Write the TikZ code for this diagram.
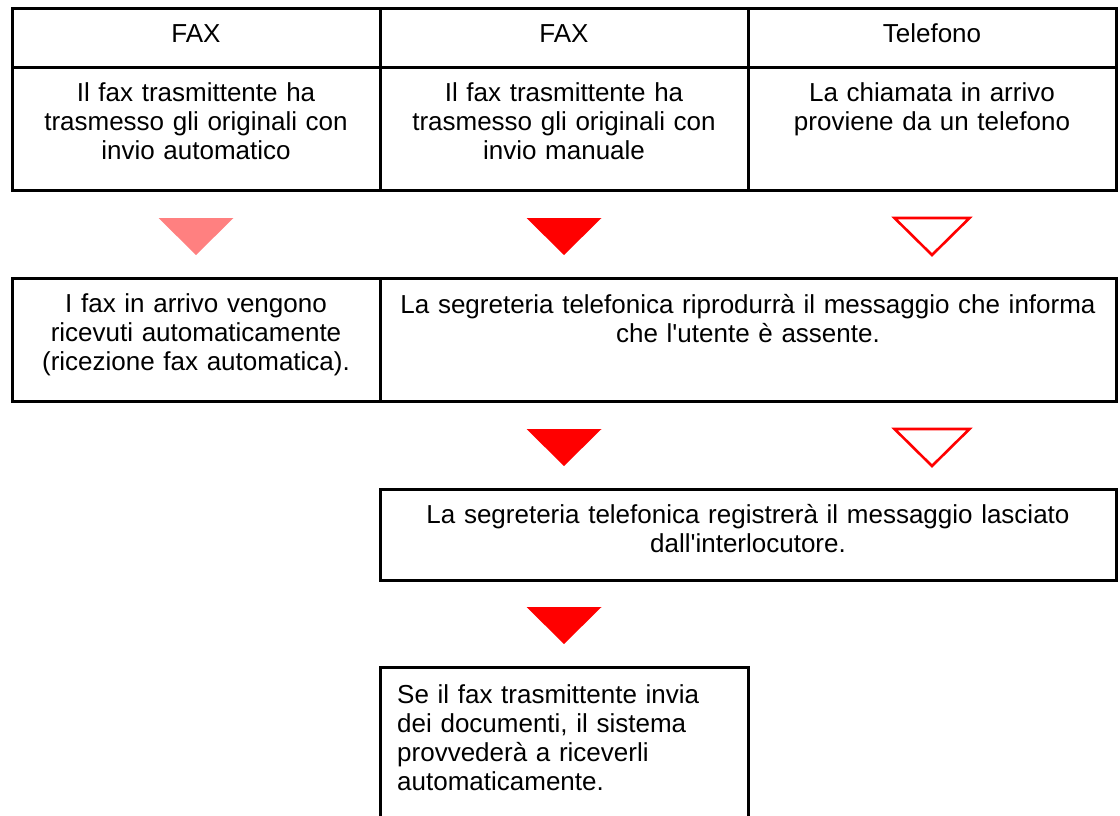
\documentclass[tikz,border=0pt]{standalone}
\usepackage{fontspec}
\newfontfamily\cellfont{Liberation Sans}
\usetikzlibrary{positioning, calc}
\definecolor{cRed}{RGB}{255,0,0}
\definecolor{cPink}{RGB}{255,128,128}
\tikzset{
  cellbox/.style={rectangle, draw=black, line width=3pt, inner sep=0pt,
                  outer sep=0pt, minimum width=368pt},
  celltext/.style={inner sep=0pt, align=center, text width=360pt,
                   font=\cellfont\fontsize{26}{29}\selectfont, anchor=base},
  trifull/.style={fill=cRed},
  trifade/.style={fill=cPink},
  triopen/.style={draw=cRed, fill=white, line width=2.6pt}
}
\begin{document}
\begin{tikzpicture}[x=1pt, y=-1pt]

  \useasboundingbox (0,0) rectangle (1120,816);
  \clip (0,0) rectangle (1120,816);

  % Header row
  \node[cellbox, minimum height=59pt, anchor=north west] (h1) at (12,9) {};
  \node[cellbox, minimum height=59pt, right=0pt of h1] (h2) {};
  \node[cellbox, minimum height=59pt, right=0pt of h2] (h3) {};

  % Condition row
  \node[cellbox, minimum height=122pt, below=0pt of h1] (c1) {};
  \node[cellbox, minimum height=122pt, right=0pt of c1] (c2) {};
  \node[cellbox, minimum height=122pt, right=0pt of c2] (c3) {};

  % Result boxes
  \node[cellbox, minimum height=123pt, below=88pt of c1] (b1) {};
  \node[cellbox, minimum width=736pt, minimum height=123pt, right=0pt of b1] (b2) {};
  \node[cellbox, minimum width=736pt, minimum height=91pt, below=88pt of b2] (b3) {};
  \node[cellbox, minimum height=200pt, anchor=north west] (b4) at ($(b3.south west)+(0,87)$) {};

  % Texts
  \node[celltext] (h1t) at ($(h1.north)+(0,34)$) {FAX};
  \node[celltext] (h2t) at ($(h2.north)+(0,34)$) {FAX};
  \node[celltext] (h3t) at ($(h3.north)+(0,34)$) {Telefono};
  \node[celltext] (c1t) at ($(c1.north)+(0,34)$)
      {Il fax trasmittente ha\\trasmesso gli originali con\\invio automatico};
  \node[celltext] (c2t) at ($(c2.north)+(0,34)$)
      {Il fax trasmittente ha\\trasmesso gli originali con\\invio manuale};
  \node[celltext] (c3t) at ($(c3.north)+(0,34)$)
      {La chiamata in arrivo\\proviene da un telefono};
  \node[celltext] (b1t) at ($(b1.north)+(0,34)$)
      {I fax in arrivo vengono\\ricevuti automaticamente\\(ricezione fax automatica).};
  \node[celltext, text width=720pt] (b2t) at ($(b2.north)+(0,35)$)
      {La segreteria telefonica riprodurrà il messaggio che informa\\che l'utente è assente.};
  \node[celltext, text width=720pt] (b3t) at ($(b3.north)+(0,34)$)
      {La segreteria telefonica registrerà il messaggio lasciato\\dall'interlocutore.};
  \node[celltext, align=left, text width=340pt, anchor=base west] (b4t)
      at ($(b4.north west)+(17,36)$)
      {Se il fax trasmittente invia\\dei documenti, il sistema\\provvederà a riceverli\\automaticamente.};

  % Down triangles
  \foreach \cell/\tri in {c1/trifade, c2/trifull, c3/triopen}
    \path[\tri] ($(\cell.south)+(-37.5,28)$) -- ++(75,0) -- ++(-37.5,37) -- cycle;
  \foreach \cell/\tri in {c2/trifull, c3/triopen}
    \path[\tri] ($(\cell.south |- b2.south)+(-37.5,28)$) -- ++(75,0) -- ++(-37.5,37) -- cycle;
  \path[trifull] ($(b4.north |- b3.south)+(-37.5,27)$) -- ++(75,0) -- ++(-37.5,37) -- cycle;

\end{tikzpicture}
\end{document}
